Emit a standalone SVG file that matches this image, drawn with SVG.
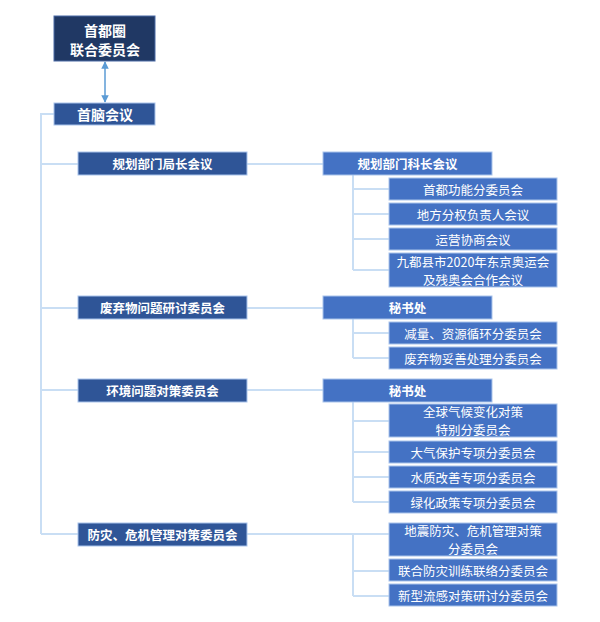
<svg xmlns="http://www.w3.org/2000/svg" width="600" height="622" viewBox="0 0 600 622">
<style>
text{font-family:"Noto Sans CJK SC","Noto Sans",sans-serif;fill:#fff;text-anchor:middle;dominant-baseline:central}
.b{font-weight:bold}
.t14{font-size:14px}
.t12{font-size:12.5px}
.top{fill:#203864;stroke:#4a6aa5;stroke-width:1}
.l1{fill:#2F5597;stroke:#a9c4eb;stroke-width:1}
.l2{fill:#4472C4;stroke:#a9c4eb;stroke-width:1}
.ln{fill:none;stroke:#C9DEF4;stroke-width:2}
</style>
<defs>
<marker id="ah" viewBox="0 0 10 10" refX="9" refY="5" markerWidth="5" markerHeight="5" orient="auto-start-reverse">
<path d="M0,0 L10,5 L0,10 z" fill="#5B9BD5"/>
</marker>
</defs>
<rect width="600" height="622" fill="#fff"/>
<g id="connectors">
<line x1="105" y1="62" x2="105" y2="102" stroke="#5B9BD5" stroke-width="1.5" marker-start="url(#ah)" marker-end="url(#ah)"/>
<path class="ln" d="M54,114 H41 V534 M41,164 H78 M41,308 H78 M41,390 H78 M41,534 H78"/>
<path class="ln" d="M247,164 H323 M247,308 H323 M247,390 H323 M247,534 H389"/>
<path class="ln" d="M353,175 V270 M353,189 H389 M353,214 H389 M353,239 H389 M353,270 H389"/>
<path class="ln" d="M353,319 V358 M353,333 H389 M353,358 H389"/>
<path class="ln" d="M353,402 V502 M353,421 H389 M353,452 H389 M353,477 H389 M353,502 H389"/>
<path class="ln" d="M353,534 V596 M353,571 H389 M353,596 H389"/>
</g>
<g id="n-top"><rect class="top" x="54" y="16" width="101" height="45"/><text class="b t14" x="105" y="29.5">首都圈</text><text class="b t14" x="105" y="49">联合委员会</text></g>
<g id="n-summit"><rect class="l1" x="54" y="103" width="101" height="22"/><text class="b t14" x="105" y="114">首脑会议</text></g>
<g id="n-plan"><rect class="l1" x="78" y="152" width="169" height="23"/><text class="b t12" x="162.5" y="163.5">规划部门局长会议</text></g>
<g id="n-waste"><rect class="l1" x="78" y="296" width="169" height="23"/><text class="b t12" x="162.5" y="307.5">废弃物问题研讨委员会</text></g>
<g id="n-env"><rect class="l1" x="78" y="379" width="169" height="23"/><text class="b t12" x="162.5" y="390.5">环境问题对策委员会</text></g>
<g id="n-disaster"><rect class="l1" x="78" y="523" width="169" height="23"/><text class="b t12" x="162.5" y="534.5">防灾、危机管理对策委员会</text></g>
<g id="n-plan2"><rect class="l2" x="323" y="152" width="169" height="23"/><text class="b t12" x="407.5" y="163.5">规划部门科长会议</text></g>
<g id="n-sec1"><rect class="l2" x="323" y="296" width="169" height="23"/><text class="b t12" x="407.5" y="307.5">秘书处</text></g>
<g id="n-sec2"><rect class="l2" x="323" y="379" width="169" height="23"/><text class="b t12" x="407.5" y="390.5">秘书处</text></g>
<g id="s1"><rect class="l2" x="389" y="178" width="168" height="22"/><text class="t12" x="473" y="189">首都功能分委员会</text></g>
<g id="s2"><rect class="l2" x="389" y="203" width="168" height="22"/><text class="t12" x="473" y="214">地方分权负责人会议</text></g>
<g id="s3"><rect class="l2" x="389" y="228" width="168" height="22"/><text class="t12" x="473" y="239">运营协商会议</text></g>
<g id="s4"><rect class="l2" x="389" y="253" width="168" height="34"/><text class="t12" x="473" y="261">九都县市2020年东京奥运会</text><text class="t12" x="473" y="279">及残奥会合作会议</text></g>
<g id="s5"><rect class="l2" x="389" y="322" width="168" height="22"/><text class="t12" x="473" y="333">减量、资源循环分委员会</text></g>
<g id="s6"><rect class="l2" x="389" y="347" width="168" height="22"/><text class="t12" x="473" y="358">废弃物妥善处理分委员会</text></g>
<g id="s7"><rect class="l2" x="389" y="404" width="168" height="33"/><text class="t12" x="473" y="411.5">全球气候变化对策</text><text class="t12" x="473" y="429.5">特别分委员会</text></g>
<g id="s8"><rect class="l2" x="389" y="441" width="168" height="22"/><text class="t12" x="473" y="452">大气保护专项分委员会</text></g>
<g id="s9"><rect class="l2" x="389" y="466" width="168" height="22"/><text class="t12" x="473" y="477">水质改善专项分委员会</text></g>
<g id="s10"><rect class="l2" x="389" y="491" width="168" height="22"/><text class="t12" x="473" y="502">绿化政策专项分委员会</text></g>
<g id="s11"><rect class="l2" x="389" y="523" width="168" height="33"/><text class="t12" x="473" y="530.5">地震防灾、危机管理对策</text><text class="t12" x="473" y="548.5">分委员会</text></g>
<g id="s12"><rect class="l2" x="389" y="559" width="168" height="22"/><text class="t12" x="473" y="570">联合防灾训练联络分委员会</text></g>
<g id="s13"><rect class="l2" x="389" y="584" width="168" height="22"/><text class="t12" x="473" y="595">新型流感对策研讨分委员会</text></g>
</svg>
